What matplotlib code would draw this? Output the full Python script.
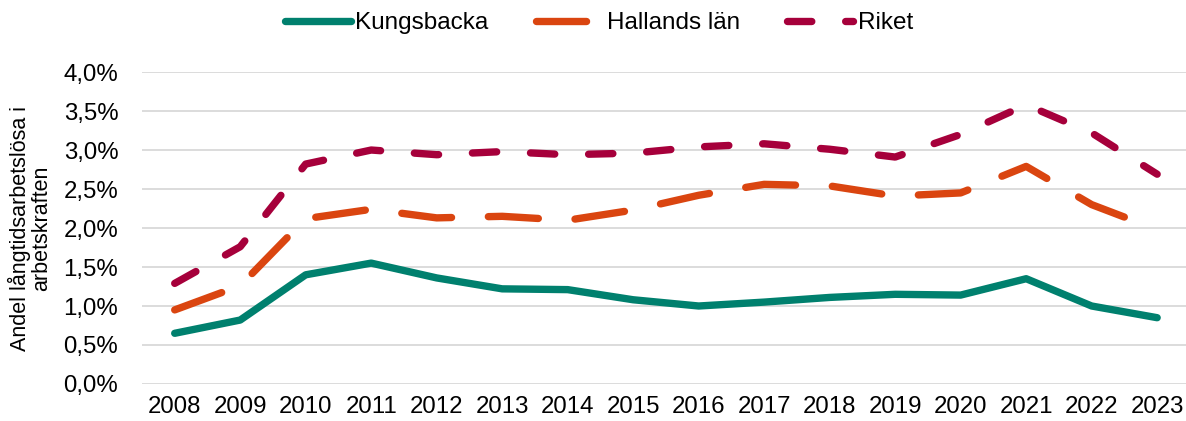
import matplotlib.pyplot as plt
from matplotlib.ticker import FuncFormatter

years = [str(y) for y in range(2008, 2024)]
kungsbacka = [0.65, 0.82, 1.40, 1.55, 1.36, 1.22, 1.21, 1.08, 1.00, 1.05, 1.11, 1.15, 1.14, 1.35, 1.00, 0.85]
hallands = [0.95, 1.26, 2.12, 2.24, 2.13, 2.15, 2.10, 2.23, 2.42, 2.56, 2.54, 2.41, 2.45, 2.79, 2.30, 1.98]
riket = [1.29, 1.76, 2.82, 3.00, 2.94, 2.98, 2.94, 2.96, 3.04, 3.08, 3.01, 2.91, 3.20, 3.58, 3.22, 2.69]

plt.rcParams['font.family'] = ['Liberation Sans', 'DejaVu Sans']

fig = plt.figure(figsize=(11.86, 4.21), dpi=100)
ax = fig.add_axes([0.1197, 0.0879, 0.8836, 0.741])

x = range(len(years))
lw = 5.3
ax.plot(x, kungsbacka, color='#00806E', lw=lw, solid_capstyle='round',
        solid_joinstyle='round', label='Kungsbacka')
ax.plot(x, hallands, color='#DA4510', lw=lw, dashes=(6.8, 5.0),
        dash_capstyle='round', dash_joinstyle='round', label='Hallands län')
ax.plot(x, riket, color='#A6003B', lw=lw, dashes=(3.3, 4.6),
        dash_capstyle='round', dash_joinstyle='round', label='Riket')

ax.set_xlim(-0.5, len(years) - 0.5)
ax.set_ylim(0, 4.0)
ax.set_yticks([i * 0.5 for i in range(9)])
ax.yaxis.set_major_formatter(FuncFormatter(lambda v, p: f'{v:.1f}%'.replace('.', ',')))
ax.set_xticks(list(x))
ax.set_xticklabels(years)
ax.tick_params(length=0, labelsize=17.3)
ax.tick_params(axis='x', pad=9)
ax.tick_params(axis='y', pad=17)

ax.grid(axis='y', color='#d9d9d9', lw=1.3)
ax.set_axisbelow(True)
for s in ax.spines.values():
    s.set_visible(False)

ax.set_ylabel('Andel långtidsarbetslösa i\narbetskraften', fontsize=15.5, linespacing=1.05, labelpad=8)

leg = fig.legend(loc='center', bbox_to_anchor=(0.505, 0.945), ncol=3, frameon=False,
                 fontsize=17.5, handlelength=2.7, handletextpad=0.2, columnspacing=1.95)

fig.savefig('out.png', dpi=100)
